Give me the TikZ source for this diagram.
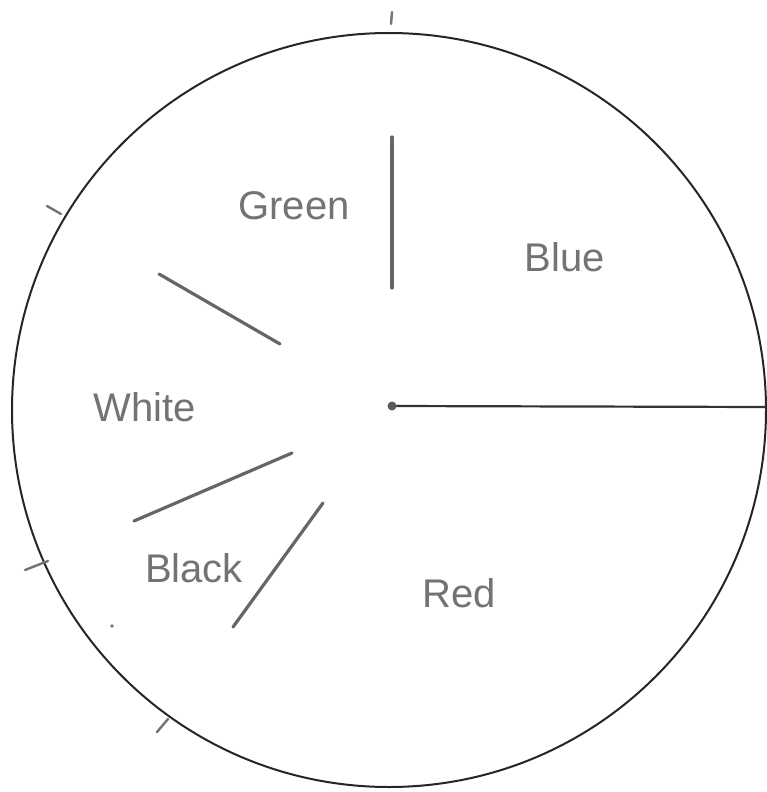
\documentclass[tikz,border=0pt]{standalone}
\usepackage{fontspec}
\setmainfont{Liberation Sans}
\begin{document}
\begin{tikzpicture}[x=1pt,y=-1pt,
  rim/.style={draw=black!85, line width=2pt},
  pencil/.style={draw=black!60, line width=3.2pt, line cap=round},
  tick/.style={draw=black!55, line width=2.4pt, line cap=round},
  hand/.style={text=black!55, font=\fontsize{40}{40}\selectfont, inner sep=0pt},
  radius line/.style={draw=black!80, line width=2.2pt}]
\useasboundingbox (0,0) rectangle (766,792);
\fill[white] (0,0) rectangle (766,792);
% circle
\coordinate (O) at (389,410);
\draw[rim] (O) circle (377);
% centre dot and radius
\coordinate (C) at (392,406);
\coordinate (E) at (766,407);
\draw[radius line] (C) -- (E);
\fill[black!65] (C) circle (4.5);
% separating pencil lines
\coordinate (g1) at (392,137);
\coordinate (g2) at (392,288);
\draw[pencil] (g1) -- (g2);
\coordinate (w1) at (159,274);
\coordinate (w2) at (280,344);
\draw[pencil] (w1) -- (w2);
\coordinate (k1) at (134,521);
\coordinate (k2) at (292,453);
\draw[pencil] (k1) -- (k2);
\coordinate (r1) at (323,503);
\coordinate (r2) at (233,627);
\draw[pencil] (r1) -- (r2);
% ticks round the rim
\coordinate (t1a) at (392,12);  \coordinate (t1b) at (391,24);
\draw[tick] (t1a) -- (t1b);
\coordinate (t2a) at (47,206);  \coordinate (t2b) at (61,214);
\draw[tick] (t2a) -- (t2b);
\coordinate (t3a) at (25,570);  \coordinate (t3b) at (48,561);
\draw[tick] (t3a) -- (t3b);
\coordinate (t4a) at (157,732); \coordinate (t4b) at (168,719);
\draw[tick] (t4a) -- (t4b);
\coordinate (spot) at (112,626);
\fill[black!55] (spot) circle (1.8);
% labels
\node[hand] (green) at (294,206) {Green};
\node[hand] (blue)  at (565,257) {Blue};
\node[hand] (white) at (145,407) {White};
\node[hand] (black) at (194,568) {Black};
\node[hand] (red)   at (459,593) {Red};
\end{tikzpicture}
\end{document}
